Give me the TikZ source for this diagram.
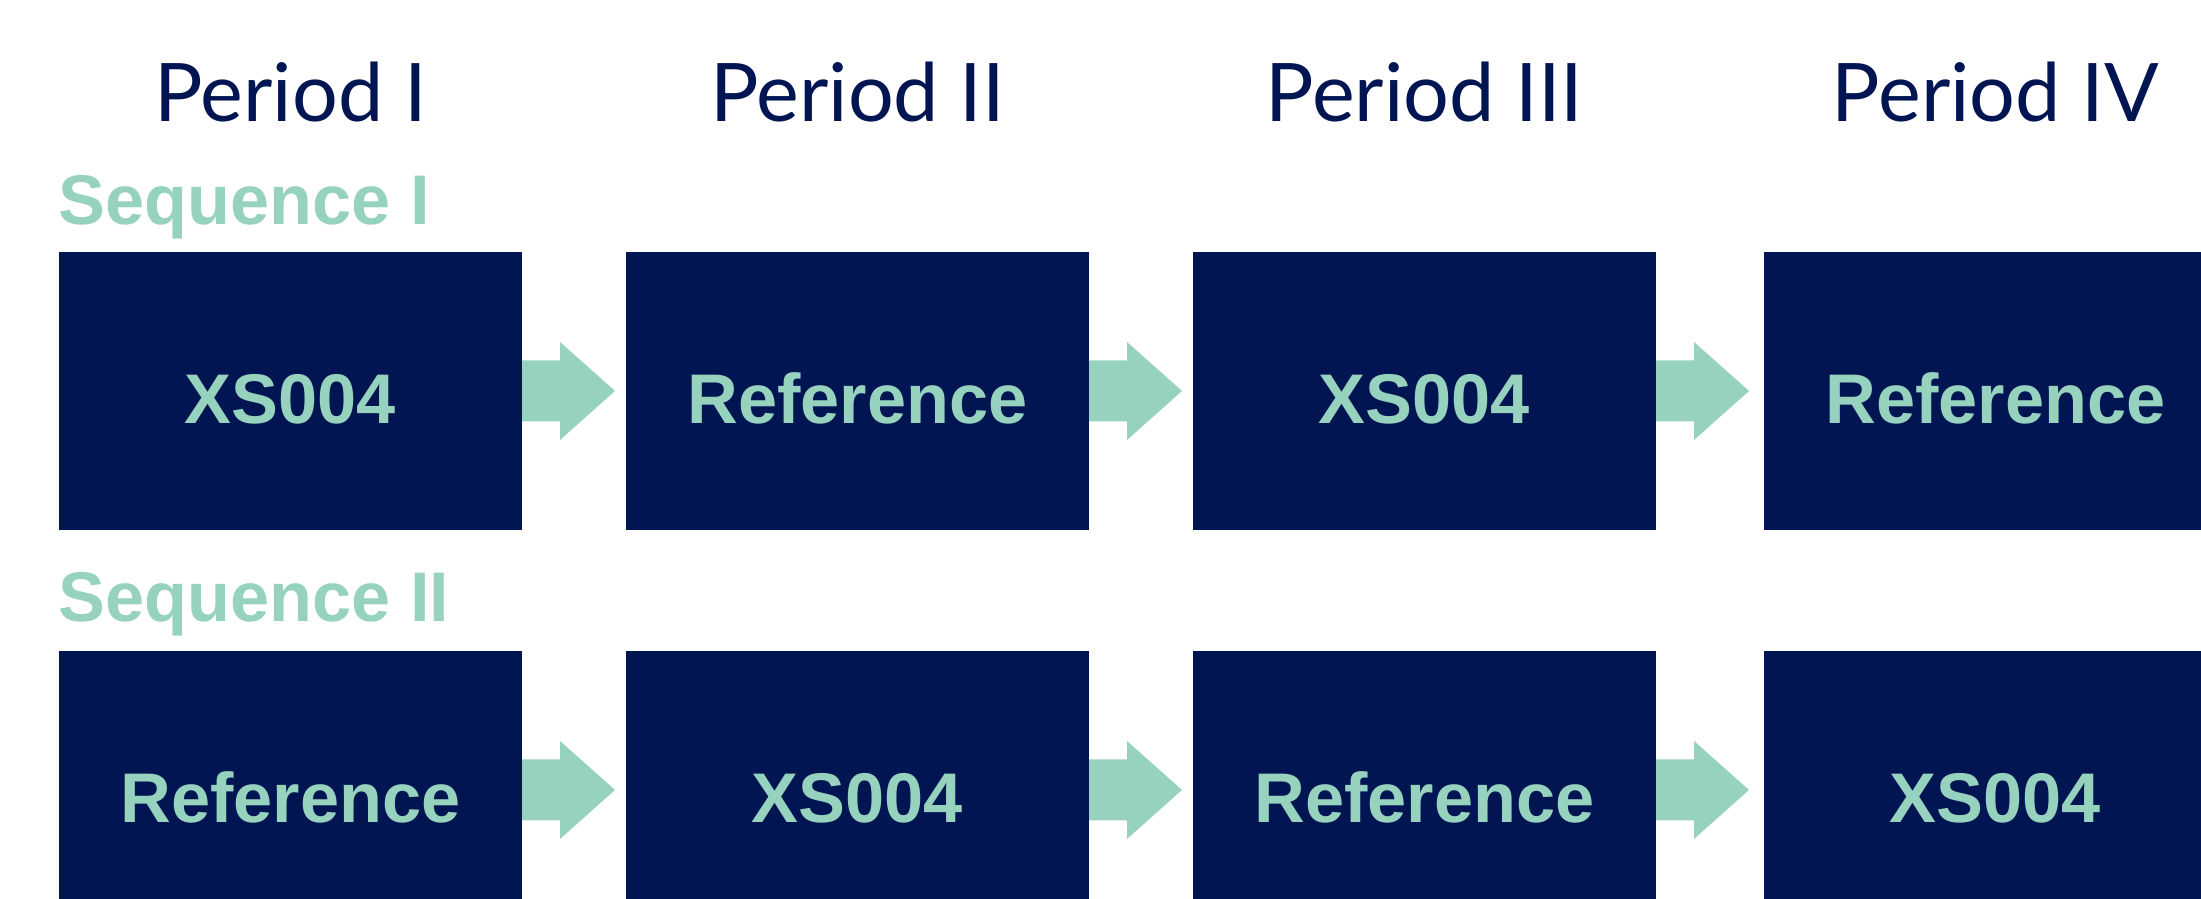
\documentclass[tikz,border=0pt]{standalone}
\usepackage{fontspec}
\setmainfont{Liberation Sans}
\newfontfamily\periodfont{Lato}
\usepackage{xcolor}
\usetikzlibrary{positioning}

\definecolor{navyblue}{RGB}{1,21,82}
\definecolor{mintgreen}{RGB}{150,210,190}

\tikzset{
  trialbox/.style={fill=navyblue, text=mintgreen, minimum width=4.63cm,
    minimum height=2.78cm, inner sep=0pt, outer sep=0pt, text height=0.66cm,
    text depth=0pt, font=\fontsize{20}{24}\selectfont\bfseries},
  periodlabel/.style={text=navyblue, anchor=base, inner sep=0pt,
    font=\periodfont\fontsize{23}{28}\selectfont},
  seqlabel/.style={text=mintgreen, anchor=base west, inner sep=0pt,
    font=\fontsize{20}{24}\selectfont\bfseries},
  blockarrow/.style={fill=mintgreen}
}

\begin{document}
\begin{tikzpicture}
\useasboundingbox (0,0) rectangle (22.01,8.99);
\clip (0,0) rectangle (22.01,8.99);

% sequence I
\node[trialbox] (b11) at (2.905,5.08) {XS004};
\node[trialbox, right=1.04cm of b11] (b12) {Reference};
\node[trialbox, right=1.04cm of b12] (b13) {XS004};
\node[trialbox, right=1.08cm of b13] (b14) {Reference};

% sequence II
\node[trialbox, below=1.21cm of b11] (b21) {Reference};
\node[trialbox, right=1.04cm of b21] (b22) {XS004};
\node[trialbox, right=1.04cm of b22] (b23) {Reference};
\node[trialbox, right=1.08cm of b23] (b24) {XS004};

% periods
\node[periodlabel] (p1) at (b11.north |- 0,7.77) {Period I};
\node[periodlabel] (p2) at (b12.north |- 0,7.77) {Period II};
\node[periodlabel] (p3) at (b13.north |- 0,7.77) {Period III};
\node[periodlabel] (p4) at (b14.north |- 0,7.77) {Period IV};

\node[seqlabel] (s1) at (0.58,6.74) {Sequence I};
\node[seqlabel] (s2) at (0.58,2.77) {Sequence II};

% arrows between periods
\foreach \a in {b11,b12,b13,b21,b22,b23}
  \fill[blockarrow] (\a.east) ++(0,0.305) -- ++(0.38,0) -- ++(0,0.185)
    -- ++(0.55,-0.49) -- ++(-0.55,-0.49) -- ++(0,0.185) -- ++(-0.38,0) -- cycle;
\end{tikzpicture}
\end{document}
